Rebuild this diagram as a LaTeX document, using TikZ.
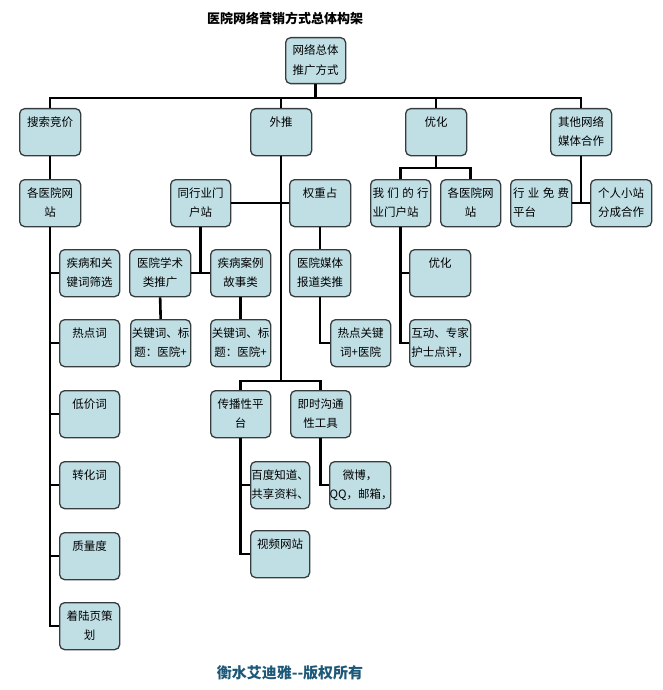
\documentclass[tikz,border=0pt]{standalone}
\usepackage{fontspec}
\setmainfont{Noto Sans CJK SC}
\definecolor{boxfill}{RGB}{192,223,229}
\definecolor{boxline}{RGB}{55,60,62}
\definecolor{copyc}{RGB}{30,88,120}
\newcommand{\fs}{\fontsize{11.5}{19.5}\selectfont}
\newcommand{\mybox}[5]{%
  \node[box, minimum width=#4pt, anchor=north west] (#1) at (#2,#3) {};
  \node[lbl, text width=#4pt] (#1-t) at ([yshift=-18pt]#1.north) {#5};}
\tikzset{
  box/.style={draw=boxline, line width=1.3pt, rounded corners=5pt, fill=boxfill,
    minimum height=47pt, inner sep=0pt},
  lbl/.style={font=\fs, align=center, anchor=base, inner sep=0pt},
  conn/.style={draw=black, line width=2.6pt},
}
\begin{document}
\begin{tikzpicture}[x=1pt, y=-1pt]
\useasboundingbox (0,0) rectangle (663,690);
\node[font=\fontsize{13}{15}\selectfont\bfseries] (title) at (285,18) {医院网络营销方式总体构架};

% root
\node[box, minimum width=60pt, minimum height=46pt, anchor=north west] (root) at (285,37) {};
\node[lbl, text width=60pt] (root-t) at ([yshift=-18pt]root.north) {网络总体\\推广方式};

% level 1
\mybox{s}{19}{108}{61}{搜索竞价}
\mybox{w}{250}{108}{61}{外推}
\mybox{y}{405}{108}{61}{优化}
\mybox{q}{550}{108}{61}{其他网络\\媒体合作}

% level 2
\mybox{s1}{19}{179}{61}{各医院网\\站}
\mybox{w1}{170}{179}{60}{同行业门\\户站}
\mybox{w2}{289}{179}{61}{权重占}
\mybox{y1}{370}{179}{60}{\makebox[56pt][s]{我\hfill 们\hfill 的\hfill 行}\\\makebox[56pt][l]{业门户站}}
\mybox{y2}{440}{179}{60}{各医院网\\站}
\mybox{q1}{510}{179}{61}{\makebox[56pt][s]{行\hfill 业\hfill 免\hfill 费}\\\makebox[56pt][l]{平台}}
\mybox{q2}{590}{179}{61}{个人小站\\分成合作}

% left column
\mybox{k1}{59}{249}{60}{疾病和关\\键词筛选}
\mybox{k2}{59}{319}{60}{热点词}
\mybox{k3}{59}{390}{60}{低价词}
\mybox{k4}{59}{461}{60}{转化词}
\mybox{k5}{59}{532}{60}{质量度}
\mybox{k6}{59}{602}{60}{着陆页策\\划}

% 外推 subtree
\mybox{w1a}{129}{249}{61}{医院学术\\类推广}
\mybox{w1b}{210}{249}{60}{疾病案例\\故事类}
\mybox{w1c}{130}{319}{60}{关键词、标\\题：医院+}
\mybox{w1d}{210}{319}{60}{关键词、标\\题：医院+}
\mybox{w2a}{289}{249}{61}{医院媒体\\报道类推}
\mybox{w2b}{330}{319}{60}{热点关键\\词+医院}
\mybox{c1}{210}{390}{60}{传播性平\\台}
\mybox{c2}{290}{390}{60}{即时沟通\\性工具}
\mybox{c1a}{250}{461}{59}{百度知道、\\共享资料、}
\mybox{c1b}{250}{530}{59}{视频网站}
\mybox{c2a}{329}{461}{61}{微博，\\QQ，邮箱，}

% 优化 subtree
\mybox{y1a}{409}{249}{61}{优化}
\mybox{y1b}{409}{319}{61}{互动、专家\\护士点评，}

\coordinate (bus) at (0,98);
\coordinate (ybus) at (0,168);
\coordinate (cbus) at (0,381);

% root bus
\draw[conn] (root.south) -- (root.south |- bus);
\draw[conn] (s.north) -- (s.north |- bus) -- (q.north |- bus) -- (q.north);
\draw[conn] (w.north) -- (w.north |- bus);
\draw[conn] (y.north) -- (y.north |- bus);

% 搜索竞价
\draw[conn] (s.south) -- (s1.north);
\draw[conn] (s1.south) |- (k6.west);
\foreach \k in {k1,k2,k3,k4,k5}{\draw[conn] (s1.south |- \k.west) -- (\k.west);}

% 外推
\draw[conn] (w.south) -- (w.south |- cbus);
\draw[conn] (w1.east) -- (w2.west);
\draw[conn] (c1.north) -- (c1.north |- cbus) -- (c2.north |- cbus) -- (c2.north);
\draw[conn] (w1.south) -- (w1.south |- w1a.east);
\draw[conn] (w1a.east) -- (w1b.west);
\draw[conn] (w1a.south) -- (w1c.north);
\draw[conn] (w1b.south) -- (w1d.north);
\draw[conn] (w2.south) -- (w2a.north);
\draw[conn] (w2a.south) |- (w2b.west);
\draw[conn] (c1.south) |- (c1b.west);
\draw[conn] (c1.south |- c1a.west) -- (c1a.west);
\draw[conn] (c2.south) |- (c2a.west);

% 优化
\draw[conn] (y.south) -- (y.south |- ybus);
\draw[conn] (y1.north) -- (y1.north |- ybus) -- (y2.north |- ybus) -- (y2.north);
\draw[conn] (y1.south) |- (y1b.west);
\draw[conn] (y1.south |- y1a.west) -- (y1a.west);

% 其他
\draw[conn] (q.south) -- (q.south |- q1.east);
\draw[conn] (q1.east) -- (q2.west);

\node[font=\fontsize{15}{17}\selectfont\bfseries, text=copyc] (copy) at (290,673) {衡水艾迪雅{-}{-}版权所有};
\end{tikzpicture}
\end{document}
